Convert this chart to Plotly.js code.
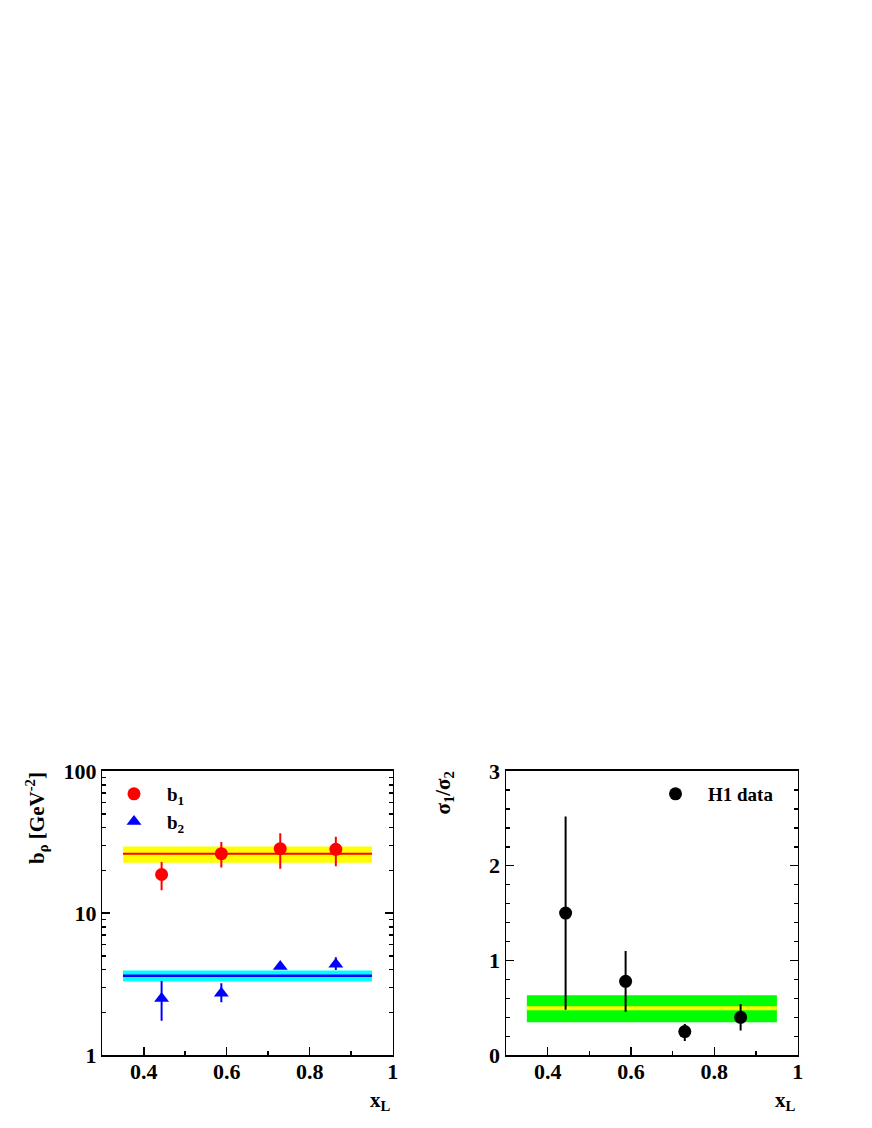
<!DOCTYPE html>
<html>
<head>
<meta charset="utf-8">
<script src="https://cdn.plot.ly/plotly-3.0.1.min.js"></script>
<style>
  html, body { margin: 0; padding: 0; background: #fff; }
  #chart { width: 872px; height: 1128px; }
</style>
</head>
<body>
<div id="chart"></div>
<script>
//x_L bins
const xL = [0.443, 0.587, 0.729, 0.863];

//slope b1 with errors
const b1 = [18.7, 26.2, 28.4, 28.1];
const b1Up = [4.2, 5.5, 8.1, 6.4];
const b1Down = [4.2, 5.3, 7.9, 6.7];

//slope b2 with errors
const b2 = [2.51, 2.73, 4.21, 4.37];
const b2Up = [0.82, 0.48, 0.15, 0.53];
const b2Down = [0.76, 0.37, 0.15, 0.39];

//ratio sigma1/sigma2
const ratio = [1.5, 0.78, 0.25, 0.40];
const ratioUp = [1.02, 0.32, 0.08, 0.14];
const ratioDown = [1.02, 0.32, 0.10, 0.14];

//fitted averages and bands
const bandX = [0.35, 0.95];
const b1Fit = 26.2, b1Lo = 22.6, b1Hi = 29.4;
const b2Fit = 3.63, b2Lo = 3.3, b2Hi = 3.94;
const rFit = 0.495, rLo = 0.348, rHi = 0.632;

const serif = "Liberation Serif";
const tickFont = {family: serif, size: 22, color: "#000", weight: "bold"};

function band(lo, hi, color, xa, ya) {
  return {
    type: "scatter", mode: "lines", fill: "toself", fillcolor: color,
    x: [bandX[0], bandX[1], bandX[1], bandX[0], bandX[0]],
    y: [lo, lo, hi, hi, lo],
    line: {width: 0}, showlegend: false, hoverinfo: "skip",
    xaxis: xa, yaxis: ya
  };
}

function centre(v, color, width, xa, ya) {
  return {
    type: "scatter", mode: "lines",
    x: bandX, y: [v, v],
    line: {color: color, width: width}, showlegend: false,
    xaxis: xa, yaxis: ya
  };
}

function points(y, up, down, color, symbol, name, xa, ya, legend) {
  return {
    type: "scatter", mode: "markers", name: name,
    x: xL, y: y,
    error_y: {type: "data", array: up, arrayminus: down, color: color, thickness: 2, width: 0},
    marker: {color: color, symbol: symbol, size: 13},
    xaxis: xa, yaxis: ya, legend: legend
  };
}

const traces = [
  band(b1Lo, b1Hi, "#ffff00", "x", "y"),
  band(b2Lo, b2Hi, "#00ffff", "x", "y"),
  centre(b1Fit, "#ff0000", 2, "x", "y"),
  centre(b2Fit, "#0000ff", 2.5, "x", "y"),
  points(b1, b1Up, b1Down, "#ff0000", "circle", "<b>b<sub>1</sub></b>", "x", "y", "legend"),
  points(b2, b2Up, b2Down, "#0000ff", "triangle-up", "<b>b<sub>2</sub></b>", "x", "y", "legend"),
  band(rLo, rHi, "#00ff00", "x2", "y2"),
  centre(rFit, "#ffff00", 4, "x2", "y2"),
  points(ratio, ratioUp, ratioDown, "#000000", "circle", "<b>H1 data</b>", "x2", "y2", "legend2")
];

const xBase = {
  range: [0.3, 1.0], tickvals: [0.4, 0.6, 0.8, 1.0], ticktext: ["0.4", "0.6", "0.8", "1"],
  ticks: "inside", ticklen: 8, tickwidth: 1.5, tickcolor: "#000",
  minor: {tickvals: [0.5, 0.7, 0.9], ticks: "inside", ticklen: 4, tickwidth: 1.5, tickcolor: "#000"},
  showline: true, linecolor: "#000", linewidth: 1.5, mirror: true,
  showgrid: false, zeroline: false, tickfont: tickFont, automargin: false,
  ticklabelstandoff: -4
};

const yaxisLeft = {
  type: "log", range: [0, 2], domain: [0.0645, 0.3165],
  tickvals: [1, 10, 100], ticktext: ["1", "10", "100"],
  ticks: "inside", ticklen: 8, tickwidth: 1.5, tickcolor: "#000",
  minor: {tickvals: [2,3,4,5,6,7,8,9,20,30,40,50,60,70,80,90], ticks: "inside", ticklen: 4, tickwidth: 1.5, tickcolor: "#000"},
  showline: true, linecolor: "#000", linewidth: 1.5, mirror: "ticks",
  showgrid: false, zeroline: false, tickfont: tickFont, automargin: false
};

const yaxisRight = {
  range: [0, 3], domain: [0.0645, 0.3165], anchor: "x2",
  tickvals: [0, 1, 2, 3],
  ticks: "inside", ticklen: 8, tickwidth: 1.5, tickcolor: "#000",
  minor: {dtick: 0.2, ticks: "inside", ticklen: 4, tickwidth: 1.5, tickcolor: "#000"},
  showline: true, linecolor: "#000", linewidth: 1.5, mirror: "ticks",
  showgrid: false, zeroline: false, tickfont: tickFont, automargin: false
};

const titleFont = {family: serif, size: 21, color: "#000", weight: "bold"};
const legendFont = {family: serif, size: 19, color: "#000", weight: "bold"};

const layout = {
  width: 872, height: 1128,
  margin: {l: 0, r: 0, t: 0, b: 0},
  paper_bgcolor: "#fff", plot_bgcolor: "#fff",
  showlegend: true,
  xaxis: Object.assign({}, xBase, {domain: [0.1173, 0.4503], anchor: "y"}),
  yaxis: yaxisLeft,
  xaxis2: Object.assign({}, xBase, {domain: [0.5803, 0.9148], anchor: "y2"}),
  yaxis2: yaxisRight,
  legend: {x: 101 / 872, y: 1 - 775 / 1128, xanchor: "left", yanchor: "top",
    bgcolor: "rgba(0,0,0,0)", font: legendFont, itemwidth: 56, tracegroupgap: 0},
  legend2: {x: 643 / 872, y: 1 - 775 / 1128, xanchor: "left", yanchor: "top",
    bgcolor: "rgba(0,0,0,0)", font: legendFont, itemwidth: 55},
  annotations: [
    {text: "b<sub>ρ</sub> [GeV<sup>-2</sup>]", xref: "paper", yref: "paper",
     x: 36 / 872, y: 1 - 770 / 1128, xanchor: "center", yanchor: "top",
     textangle: -90, showarrow: false, font: titleFont},
    {text: "x<sub>L</sub>", xref: "paper", yref: "paper",
     x: 393 / 872, y: 1 - 1086 / 1128, xanchor: "right", yanchor: "top",
     showarrow: false, font: titleFont},
    {text: "σ<sub>1</sub>/σ<sub>2</sub>", xref: "paper", yref: "paper",
     x: 443 / 872, y: 1 - 770 / 1128, xanchor: "center", yanchor: "top",
     textangle: -90, showarrow: false, font: titleFont},
    {text: "x<sub>L</sub>", xref: "paper", yref: "paper",
     x: 798 / 872, y: 1 - 1086 / 1128, xanchor: "right", yanchor: "top",
     showarrow: false, font: titleFont}
  ]
};

Plotly.newPlot("chart", traces, layout, {staticPlot: true});
</script>
</body>
</html>
